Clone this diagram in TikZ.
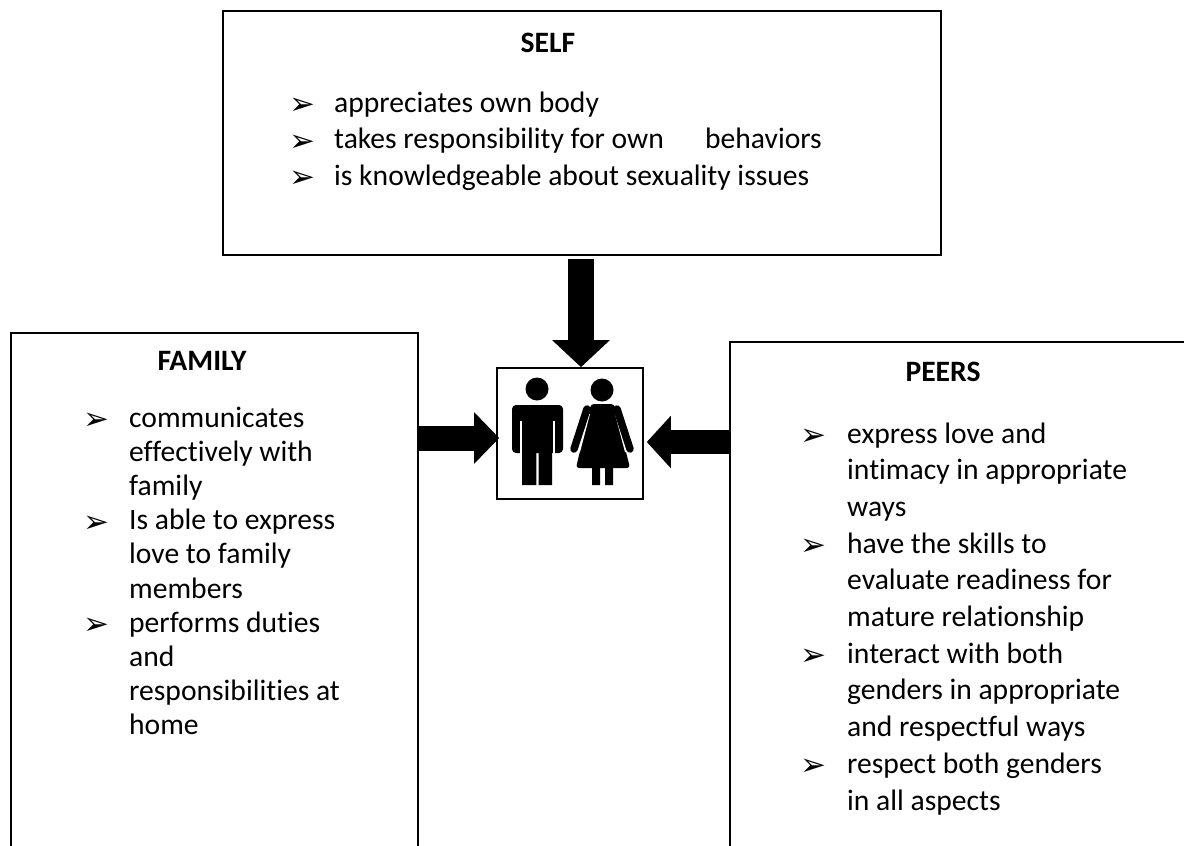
\documentclass[tikz,border=0pt]{standalone}
\usepackage{fontspec}
\setmainfont{Carlito}[Ligatures={NoCommon,NoContextual}]
\newfontfamily\symfont{DejaVu Sans}
\usetikzlibrary{arrows.meta}
\tikzset{
  box/.style={draw=black, line width=1.6pt, inner sep=0pt},
  txt/.style={anchor=base west, inner sep=0pt, font=\fontsize{29.6}{35}\selectfont},
  ttl/.style={anchor=base, inner sep=0pt, font=\fontsize{29.6}{35}\selectfont\bfseries},
  blt/.style={anchor=base west, inner sep=0pt, yshift=-2.5pt, font=\symfont\fontsize{31}{35}\selectfont},
  bigarrow/.style={draw=black, line width=#1}
}
\begin{document}
\begin{tikzpicture}[x=1pt,y=-1pt]
\useasboundingbox (0,0) rectangle (1184,846);
\clip (0,0) rectangle (1184,846);
\fill[white] (0,0) rectangle (1184,846);
% boxes
\node[box, minimum width=718pt, minimum height=244pt] (selfbox) at (582,133) {};
\node[box, minimum width=407pt, minimum height=567pt] (family) at (214.5,616.5) {};
\node[box, minimum width=520pt, minimum height=558pt] (peers) at (990,621) {};
\node[box, minimum width=146pt, minimum height=131pt] (icon) at (570,433.5) {};
% SELF text
\node[ttl] (selft) at (548,52) {SELF};
\foreach \i/\t in {0/{appreciates own body},1/{\makebox[371pt][l]{takes responsibility for own}behaviors},2/{is knowledgeable about sexuality issues}}{
  \node[txt] (s\i) at (334,112+36.7*\i) {\t};
  \node[blt] (sb\i) at (289,112+36.7*\i) {➢};
}
% FAMILY text
\node[ttl] (famt) at (202,370) {FAMILY};
\foreach \i/\t in {0/communicates,1/effectively with,2/family,3/Is able to express,4/love to family,5/members,6/performs duties,7/and,8/responsibilities at,9/home}{
  \node[txt] (f\i) at (129,427+34.2*\i) {\t};
}
\foreach \i in {0,3,6}{\node[blt] (fb\i) at (83,427+34.2*\i) {➢};}
% PEERS text
\node[ttl] (peert) at (943,381) {PEERS};
\foreach \i/\t in {0/express love and,1/intimacy in appropriate,2/ways,3/have the skills to,4/evaluate readiness for,5/mature relationship,6/interact with both,7/genders in appropriate,8/and respectful ways,9/respect both genders,10/in all aspects}{
  \node[txt] (p\i) at (847,443+36.7*\i) {\t};
}
\foreach \i in {0,3,6,9}{\node[blt] (pb\i) at (800,443+36.7*\i) {➢};}
% arrows
\draw[bigarrow=26pt, -{Triangle[width=56pt,length=27pt]}] ([yshift=-3pt]selfbox.south -| icon.north) ++(11,0) -- ([xshift=11pt]icon.north);
\draw[bigarrow=25pt, -{Triangle[width=50pt,length=25pt]}] ([yshift=-4.5pt]family.east |- icon.west) -- ([yshift=-4.5pt,xshift=3pt]icon.west);
\draw[bigarrow=24pt, -{Triangle[width=51pt,length=24pt]}] ([yshift=-8.5pt]peers.west |- icon.east) -- ([yshift=-8.5pt,xshift=3pt]icon.east);
% man
\fill (537,389) circle (11.5);
\fill[rounded corners=4pt] (512,453) -- (512,405) -- (563,405) -- (563,453) -- cycle;
\draw[white, line width=1.8pt] (521,421) -- (521,455) (554,421) -- (554,455);
\fill (522,450) rectangle (536.3,485) (538.7,450) rectangle (552,485);
% woman
\fill (602,390) circle (11.5);
\fill[rounded corners=3pt] (591,404) -- (614,404) -- (630,468) -- (576,468) -- cycle;
\draw[white, line width=2pt] (589,414) -- (579,452) (616,414) -- (626,452);
\draw[line width=7.5pt, line cap=round] (587,409) -- (574,449) (617,409) -- (630,449);
\fill (592,466) rectangle (600,485) (605,466) rectangle (613,485);
\end{tikzpicture}
\end{document}
